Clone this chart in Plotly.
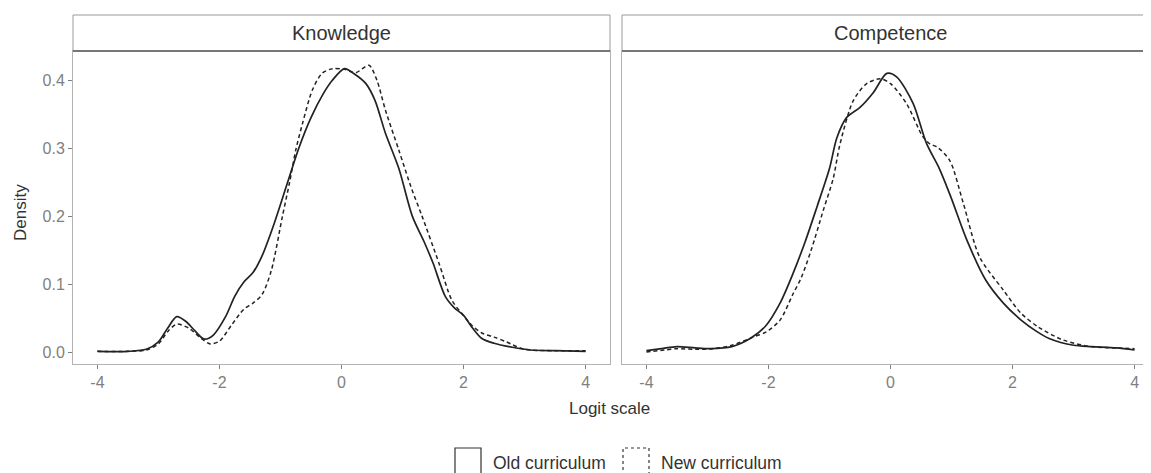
import plotly.graph_objects as go

# ---------------- data ----------------
panels = ["Knowledge", "Competence"]
series_names = ["Old curriculum", "New curriculum"]

know_old_x = [-4.0, -3.5, -3.2, -3.0, -2.85, -2.7, -2.55, -2.4, -2.25, -2.1, -1.9, -1.75, -1.6, -1.45,
              -1.3, -1.1, -0.9, -0.7, -0.5, -0.3, -0.15, 0.05, 0.2, 0.4, 0.55, 0.72, 0.94, 1.16, 1.35,
              1.5, 1.7, 1.85, 2.0, 2.15, 2.3, 2.5, 2.8, 3.1, 3.5, 4.0]
know_old_y = [0.001, 0.001, 0.004, 0.015, 0.035, 0.052, 0.045, 0.031, 0.019, 0.025, 0.052, 0.082, 0.103,
              0.117, 0.142, 0.19, 0.245, 0.3, 0.345, 0.38, 0.4, 0.417, 0.41, 0.395, 0.37, 0.322, 0.27,
              0.2, 0.163, 0.131, 0.082, 0.065, 0.054, 0.035, 0.02, 0.013, 0.007, 0.003, 0.002, 0.001]

know_new_x = [-4.0, -3.5, -3.2, -3.0, -2.85, -2.7, -2.5, -2.3, -2.15, -2.0, -1.8, -1.6, -1.45, -1.3,
              -1.15, -0.97, -0.85, -0.75, -0.64, -0.48, -0.32, -0.15, 0.05, 0.23, 0.45, 0.58, 0.72,
              0.94, 1.15, 1.32, 1.6, 1.81, 1.97, 2.15, 2.3, 2.5, 2.7, 3.0, 3.5, 4.0]
know_new_y = [0.001, 0.001, 0.003, 0.012, 0.03, 0.041, 0.035, 0.02, 0.012, 0.016, 0.04, 0.063, 0.072,
              0.085, 0.12, 0.199, 0.25, 0.297, 0.336, 0.385, 0.41, 0.417, 0.416, 0.411, 0.422, 0.4,
              0.356, 0.297, 0.24, 0.2, 0.13, 0.076, 0.057, 0.038, 0.028, 0.022, 0.015, 0.004, 0.002, 0.002]

comp_old_x = [-4.0, -3.75, -3.5, -3.2, -2.95, -2.6, -2.3, -2.05, -1.81, -1.6, -1.4, -1.2, -1.0, -0.88,
              -0.72, -0.5, -0.28, -0.06, 0.1, 0.37, 0.59, 0.8, 0.99, 1.25, 1.56, 1.85, 2.14, 2.4, 2.6,
              3.0, 3.3, 3.7, 4.0]
comp_old_y = [0.002, 0.005, 0.008, 0.006, 0.005, 0.008, 0.02, 0.038, 0.072, 0.115, 0.162, 0.215, 0.27,
              0.315, 0.345, 0.36, 0.382, 0.41, 0.405, 0.366, 0.307, 0.27, 0.228, 0.165, 0.106, 0.072,
              0.047, 0.03, 0.02, 0.01, 0.008, 0.006, 0.003]

comp_new_x = [-4.0, -3.7, -3.5, -3.2, -2.9, -2.6, -2.25, -2.03, -1.81, -1.6, -1.46, -1.3, -1.1, -0.94,
              -0.83, -0.61, -0.39, -0.17, 0.0, 0.26, 0.53, 0.65, 0.76, 0.97, 1.19, 1.46, 1.85, 2.14,
              2.42, 2.82, 3.28, 3.7, 4.0]
comp_new_y = [0.0, 0.003, 0.005, 0.004, 0.005, 0.01, 0.022, 0.03, 0.047, 0.085, 0.11, 0.15, 0.209, 0.255,
              0.305, 0.37, 0.395, 0.402, 0.395, 0.366, 0.317, 0.306, 0.302, 0.282, 0.22, 0.14, 0.091,
              0.057, 0.037, 0.018, 0.008, 0.006, 0.005]

x_ticks = [-4, -2, 0, 2, 4]
x_tick_labels = ["-4", "-2", "0", "2", "4"]
y_ticks = [0.0, 0.1, 0.2, 0.3, 0.4]
y_tick_labels = ["0.0", "0.1", "0.2", "0.3", "0.4"]

# ---------------- layout geometry (page has an 8px body margin) ----------------
FONT = "Liberation Sans, Arial, sans-serif"
LINE_COL = "#222222"
BORDER = "#b3b3b3"
TICK_COL = "#7f7f7f"
TEXT_COL = "#333333"
OFF = 8
W, H = 1151, 473
ML = 73 - OFF          # panel left edge at page x=73
MT = 15 - OFF          # strip top at page y=15
PANEL_BOTTOM = 364 - OFF
MB = H - PANEL_BOTTOM
plot_w = W - ML
plot_h = H - MT - MB
panel_top = (PANEL_BOTTOM - (51 - OFF)) / plot_h


def px_x(px):  # page pixel -> paper x
    return (px - OFF - ML) / plot_w


def px_y(py):  # page pixel -> paper y
    return (PANEL_BOTTOM - (py - OFF)) / plot_h


left_dom = [0.0, px_x(610)]
right_dom = [px_x(622), 1.0]

fig = go.Figure()

data = [
    (know_old_x, know_old_y, know_new_x, know_new_y, "x", "y"),
    (comp_old_x, comp_old_y, comp_new_x, comp_new_y, "x2", "y2"),
]
for ox, oy, nx, ny, xa, ya in data:
    fig.add_trace(go.Scatter(x=ox, y=oy, mode="lines", name=series_names[0], xaxis=xa, yaxis=ya,
                             line=dict(color=LINE_COL, width=1.7, shape="spline", smoothing=0.8),
                             showlegend=False))
    fig.add_trace(go.Scatter(x=nx, y=ny, mode="lines", name=series_names[1], xaxis=xa, yaxis=ya,
                             line=dict(color=LINE_COL, width=1.5, dash="4px,3px", shape="spline",
                                       smoothing=0.8),
                             showlegend=False))

ax_common = dict(tickmode="array", tickvals=x_ticks, ticktext=x_tick_labels, ticks="outside",
                 ticklen=4, tickcolor=TICK_COL, tickfont=dict(family=FONT, size=16, color=TICK_COL),
                 showgrid=False, zeroline=False, showline=True, linecolor=BORDER, linewidth=1)
unit = (610 - 73) / 8.8
right_w = (1151 + OFF) - 622
fig.update_layout(
    width=W, height=H,
    margin=dict(l=ML, r=0, t=MT, b=MB),
    plot_bgcolor="white", paper_bgcolor="white",
    xaxis=dict(domain=left_dom, range=[-4.4, 4.4], anchor="y", mirror=True, **ax_common),
    xaxis2=dict(domain=right_dom, range=[-4.4, -4.4 + right_w / unit], anchor="y2", **ax_common),
    yaxis=dict(domain=[0, panel_top], range=[-0.0176, 0.443], tickmode="array", tickvals=y_ticks,
               ticktext=y_tick_labels, ticks="outside", ticklen=4, tickcolor=TICK_COL,
               tickfont=dict(family=FONT, size=16, color=TICK_COL), showgrid=False, zeroline=False,
               showline=True, linecolor=BORDER, linewidth=1, mirror=True, anchor="x"),
    yaxis2=dict(domain=[0, panel_top], range=[-0.0176, 0.443], showticklabels=False, ticks="",
                showgrid=False, zeroline=False, showline=True, linecolor=BORDER, linewidth=1,
                anchor="x2"),
    showlegend=False,
)

shapes = []
annotations = []
panel_w = left_dom[1] - left_dom[0]
for dom, label in [(left_dom, panels[0]), (right_dom, panels[1])]:
    x1 = dom[1] if dom[1] < 1 else 1.02
    shapes.append(dict(type="rect", xref="paper", yref="paper", x0=dom[0], x1=x1,
                       y0=panel_top, y1=1.0, line=dict(color="#9a9a9a", width=1), fillcolor="white",
                       layer="above"))
    shapes.append(dict(type="line", xref="paper", yref="paper", x0=dom[0], x1=x1,
                       y0=panel_top, y1=panel_top, line=dict(color="#5a5a5a", width=1.5),
                       layer="above"))
    annotations.append(dict(text=label, xref="paper", yref="paper", x=dom[0] + panel_w / 2,
                            y=(panel_top + 1) / 2, showarrow=False, xanchor="center", yanchor="middle",
                            font=dict(family=FONT, size=20, color=TEXT_COL)))

annotations.append(dict(text="Logit scale", xref="paper", yref="paper", x=px_x(609), y=px_y(408),
                        showarrow=False, xanchor="center", yanchor="middle",
                        font=dict(family=FONT, size=17, color=TEXT_COL)))
annotations.append(dict(text="Density", xref="paper", yref="paper", x=px_x(20), y=px_y(213),
                        showarrow=False, xanchor="center", yanchor="middle", textangle=-90,
                        font=dict(family=FONT, size=17, color=TEXT_COL)))

# legend keys (drawn manually as boxes, like ggplot fill keys)
shapes.append(dict(type="rect", xref="paper", yref="paper", x0=px_x(455), x1=px_x(481),
                   y0=px_y(485), y1=px_y(448), line=dict(color=TEXT_COL, width=1.2)))
shapes.append(dict(type="rect", xref="paper", yref="paper", x0=px_x(623), x1=px_x(649),
                   y0=px_y(485), y1=px_y(448), line=dict(color=TEXT_COL, width=1.2, dash="3px,3px")))
annotations.append(dict(text=series_names[0], xref="paper", yref="paper", x=px_x(491), y=px_y(463),
                        showarrow=False, xanchor="left", yanchor="middle",
                        font=dict(family=FONT, size=17.5, color=TEXT_COL)))
annotations.append(dict(text=series_names[1], xref="paper", yref="paper", x=px_x(659), y=px_y(463),
                        showarrow=False, xanchor="left", yanchor="middle",
                        font=dict(family=FONT, size=17.5, color=TEXT_COL)))

fig.update_layout(shapes=shapes, annotations=annotations)
fig.write_html("out.html")
